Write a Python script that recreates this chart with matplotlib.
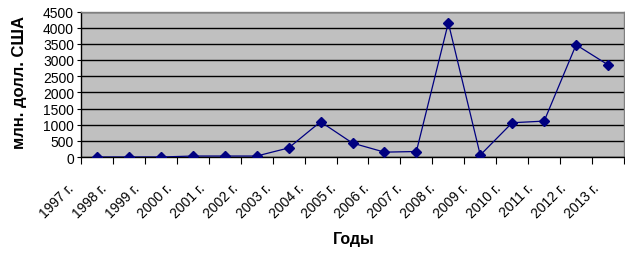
import matplotlib
matplotlib.use("Agg")
import matplotlib.pyplot as plt
import matplotlib.transforms as mtransforms
import numpy as np

YEARS = ["1997 г.", "1998 г.", "1999 г.", "2000 г.", "2001 г.", "2002 г.", "2003 г.",
         "2004 г.", "2005 г.", "2006 г.", "2007 г.", "2008 г.", "2009 г.", "2010 г.",
         "2011 г.", "2012 г.", "2013 г."]
VALUES = [0, 0, 0, 30, 30, 30, 280, 1090, 430, 150, 170, 4150, 60, 1060, 1110, 3470, 2850]
Y_TICKS = list(range(0, 4501, 500))

NAVY = "#000080"
PLOT_BG = "#C0C0C0"
BORDER = "#808080"

plt.rcParams["font.family"] = ["Liberation Sans", "DejaVu Sans"]

W, H = 625, 255
fig = plt.figure(figsize=(W / 100, H / 100), dpi=100)
ax = fig.add_axes([81 / W, 1 - 158 / H, 543 / W, 145.5 / H])
ax.set_facecolor(PLOT_BG)

x = np.arange(len(YEARS))
ax.plot(x, VALUES, color=NAVY, lw=0.9, marker="D", markersize=5, zorder=3)

ax.set_xlim(-0.5, len(YEARS) - 0.5)
ax.set_ylim(0, 4500)

ax.set_yticks(Y_TICKS)
ax.set_yticklabels([str(v) for v in Y_TICKS], fontsize=10)
ax.tick_params(axis="y", length=3, width=0.8, pad=2, color="black")
ax.grid(axis="y", color="black", linewidth=1.0, zorder=1)
ax.set_axisbelow(True)

# tick marks on category boundaries, labels on the categories
ax.set_xticks(np.arange(-0.5, len(YEARS)), minor=False)
ax.set_xticklabels([])
ax.tick_params(axis="x", which="major", length=5, width=0.8, color="black")
ax.set_xticks(x, minor=True)
ax.set_xticklabels(YEARS, minor=True, rotation=45, ha="right", va="top", fontsize=10)
ax.tick_params(axis="x", which="minor", length=0, pad=17)
# in the original the labels sit left of their points, a bit less so to the right
for i, lbl in enumerate(ax.get_xticklabels(minor=True)):
    dx = (-20 + 0.86 * i) / 100
    lbl.set_transform(lbl.get_transform()
                      + mtransforms.ScaledTranslation(dx, 0, fig.dpi_scale_trans))

for side in ("top", "right"):
    ax.spines[side].set_color(BORDER)
    ax.spines[side].set_linewidth(1.0)
for side in ("left", "bottom"):
    ax.spines[side].set_color("black")
    ax.spines[side].set_linewidth(1.0)

fig.text(20 / W, 1 - 83 / H, "млн. долл. США", rotation=90, ha="center", va="center",
         fontsize=12, fontweight="bold")
fig.text(354 / W, 1 - 240 / H, "Годы", ha="center", va="center",
         fontsize=11.5, fontweight="bold")

fig.savefig("out.png", dpi=100, facecolor="white")
